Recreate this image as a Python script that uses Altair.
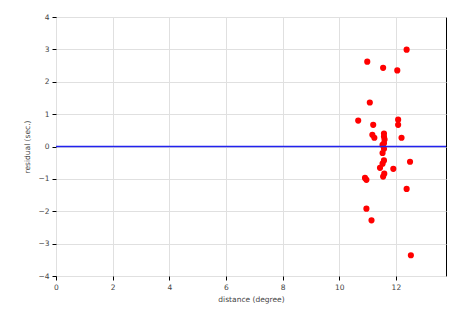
import altair as alt
import pandas as pd

distance = [12.38, 10.99, 11.55, 12.05, 11.08, 10.67, 11.20, 12.08, 12.08,
            11.17, 11.24, 11.58, 11.58, 11.60, 12.20, 11.58, 11.53, 11.58,
            11.53, 12.50, 11.58, 11.53, 11.44, 11.91, 11.59, 11.55, 10.91,
            10.96, 12.38, 10.96, 11.14, 12.53]
residual = [2.99, 2.62, 2.43, 2.35, 1.36, 0.80, 0.67, 0.83, 0.67,
            0.36, 0.27, 0.40, 0.31, 0.22, 0.27, 0.10, 0.05, -0.07,
            -0.20, -0.47, -0.43, -0.53, -0.66, -0.69, -0.84, -0.93, -0.97,
            -1.03, -1.31, -1.92, -2.28, -3.36]
x_ticks = [0, 2, 4, 6, 8, 10, 12]
y_ticks = [-4, -3, -2, -1, 0, 1, 2, 3, 4]

df = pd.DataFrame({"distance": distance, "residual": residual})
zero_df = pd.DataFrame({"residual": [0]})

x_enc = alt.X("distance:Q", title="distance (degree)",
              scale=alt.Scale(domain=[0, 13.77], nice=False, zero=False),
              axis=alt.Axis(values=x_ticks, format="d", labelOverlap=False,
                            labelFlush=False))
y_enc = alt.Y("residual:Q", title="residual (sec.)",
              scale=alt.Scale(domain=[-4, 4], nice=False),
              axis=alt.Axis(values=y_ticks, format="d", labelOverlap=False,
                            labelFlush=False))

points = alt.Chart(df).mark_circle(color="#ff0000", opacity=1, size=38).encode(
    x=x_enc, y=y_enc)

zero = alt.Chart(zero_df).mark_rule(color="#2222ee", strokeWidth=1.5).encode(
    y=y_enc)

chart = alt.layer(points, zero).properties(
    width=390, height=259,
    autosize="none",
    padding={"left": 56, "top": 17, "right": 19, "bottom": 39},
).configure_view(
    stroke="black", strokeWidth=1
).configure_axis(
    grid=True, gridColor="#e0e0e0", gridWidth=1,
    domain=False, tickColor="black", tickSize=4,
    labelFont="DejaVu Sans", labelFontSize=7.5, labelColor="#444",
    titleFont="DejaVu Sans", titleFontSize=7.5, titleColor="#444",
    titleFontWeight="normal", labelPadding=3,
).configure_axisX(titlePadding=5).configure_axisY(titlePadding=6)

chart.save("out.html", embed_options={"renderer": "svg", "actions": False})
